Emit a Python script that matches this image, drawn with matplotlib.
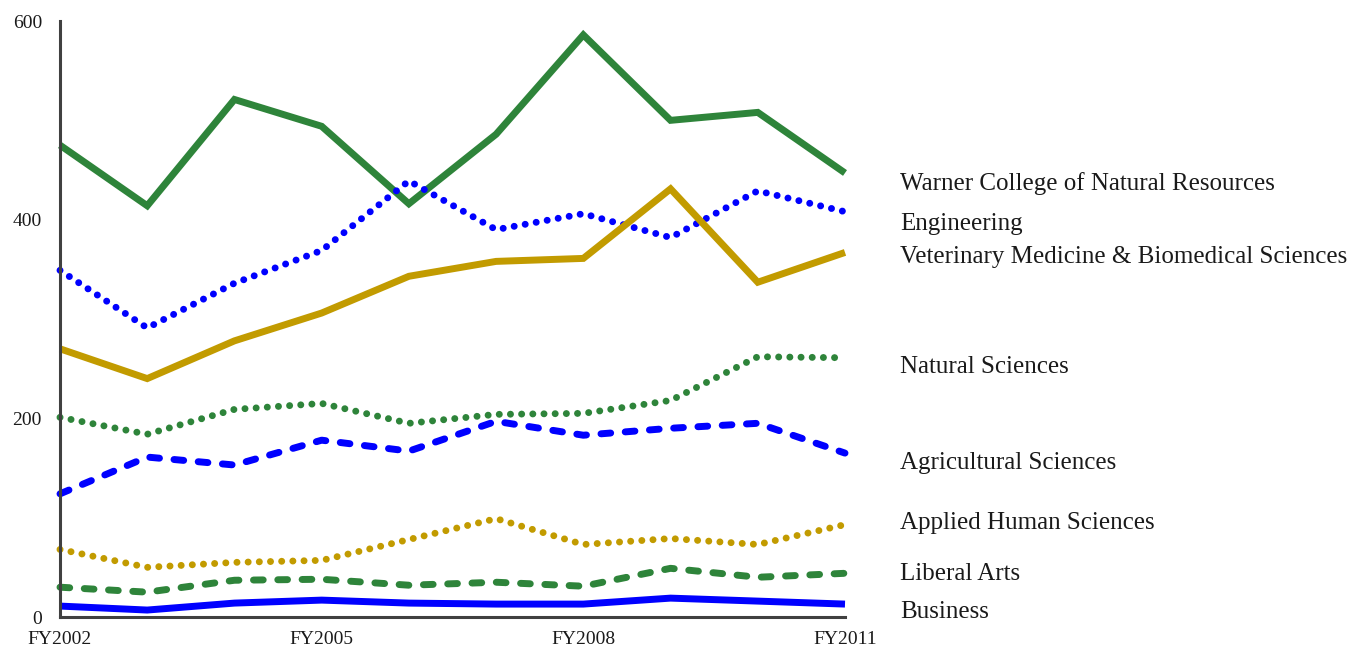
import matplotlib.pyplot as plt
import matplotlib.transforms as mtransforms

# Fiscal years and series values
years = ['FY2002', 'FY2003', 'FY2004', 'FY2005', 'FY2006',
         'FY2007', 'FY2008', 'FY2009', 'FY2010', 'FY2011']
shown_years = ['FY2002', 'FY2005', 'FY2008', 'FY2011']

warner = [475, 414, 521, 494, 416, 486, 586, 500, 508, 447]
engineering = [349, 291, 336, 369, 439, 390, 406, 382, 429, 408]
vetmed = [270, 240, 278, 306, 343, 358, 361, 431, 337, 367]
natural = [201, 184, 209, 215, 195, 204, 205, 218, 262, 261]
agricultural = [124, 161, 153, 178, 167, 197, 183, 190, 195, 165]
applied = [68, 50, 55, 57, 78, 99, 73, 79, 73, 93]
liberal = [30, 25, 37, 38, 32, 35, 31, 49, 40, 44]
business = [11, 7, 14, 17, 14, 13, 13, 19, 16, 13]

labels = ['Warner College of Natural Resources', 'Engineering',
          'Veterinary Medicine & Biomedical Sciences', 'Natural Sciences',
          'Agricultural Sciences', 'Applied Human Sciences', 'Liberal Arts',
          'Business']
label_y = [436, 396, 362, 252, 155, 95, 43, 5]

GREEN = '#2E843A'
BLUE = '#0000FF'
GOLD = '#C29B00'

DOT = (0.01, 1.6)
DASH = (1.4, 2.1)

series = [
    (warner, GREEN, None),
    (engineering, BLUE, DOT),
    (vetmed, GOLD, None),
    (natural, GREEN, DOT),
    (agricultural, BLUE, DASH),
    (applied, GOLD, DOT),
    (liberal, GREEN, DASH),
    (business, BLUE, None),
]

plt.rcParams['font.family'] = ['Liberation Serif', 'DejaVu Serif']

fig = plt.figure(figsize=(13.53, 6.51), dpi=100)
ax = fig.add_axes([60 / 1353, 34 / 651, 785 / 1353, 596 / 651])

x = list(range(len(years)))
for vals, color, dashes in series:
    line, = ax.plot(x, vals, color=color, linewidth=5,
                    solid_joinstyle='miter', solid_capstyle='butt',
                    dash_capstyle='round', dash_joinstyle='round',
                    clip_on=False)
    if dashes is not None:
        line.set_dashes(dashes)

ax.set_xlim(0, len(years) - 1)
ax.set_ylim(0, 600)
ax.set_yticks([0, 200, 400, 600])
ax.set_xticks([years.index(y) for y in shown_years])
ax.set_xticklabels(shown_years)
ax.tick_params(length=0, labelsize=14, colors='#1a1a1a')
ax.tick_params(axis='x', pad=10)
ax.tick_params(axis='y', pad=13)

for side in ('top', 'right'):
    ax.spines[side].set_visible(False)
for side in ('left', 'bottom'):
    ax.spines[side].set_color('#404040')
    ax.spines[side].set_linewidth(2.2)

trans = mtransforms.blended_transform_factory(ax.transAxes, ax.transData)
for name, yv in zip(labels, label_y):
    ax.text((900 - 60) / 785, yv, name, transform=trans, ha='left',
            va='center', fontsize=18, color='#1a1a1a')

fig.savefig('out.png', dpi=100, facecolor='white')
